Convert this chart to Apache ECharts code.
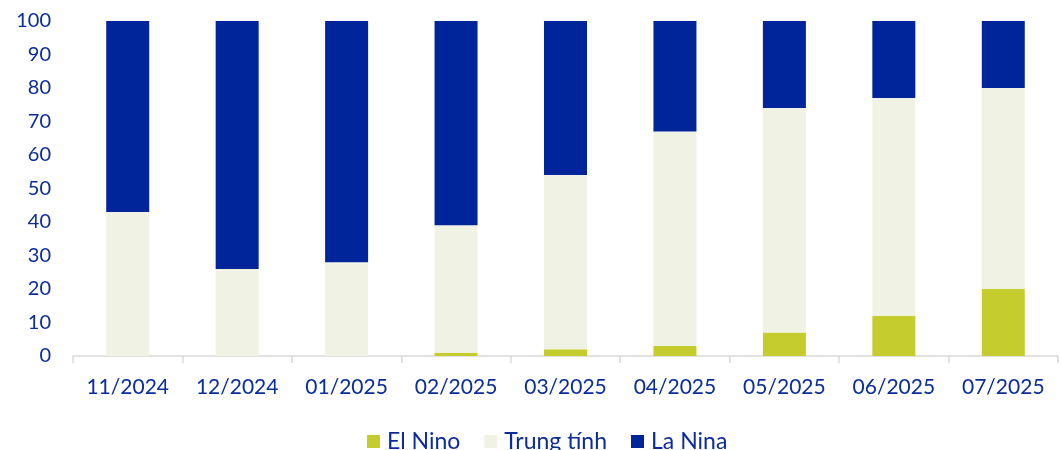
<!DOCTYPE html>
<html><head><meta charset="utf-8">
<script src="https://cdn.jsdelivr.net/npm/echarts@6/dist/echarts.min.js"></script>
<style>html,body{margin:0;padding:0;background:#fff}#c{width:1061px;height:450px}</style>
</head><body><div id="c"></div>
<script>
const categories = ['11/2024','12/2024','01/2025','02/2025','03/2025','04/2025','05/2025','06/2025','07/2025'];
const elNino = [0,0,0,1,2,3,7,12,20];
const trungTinh = [43,26,28,38,52,64,67,65,60];
const laNina = [57,74,72,61,46,33,26,23,20];
const seriesNames = ['El Nino','Trung tính','La Nina'];
const colors = ['#C5CD2E','#F0F3E3','#00259A'];
const textColor = '#0A2D9A';
const font = 'Lato';

const chart = echarts.init(document.getElementById('c'));
const data = [elNino, trungTinh, laNina];
chart.setOption({
  animation:false,
  grid:{left:73,right:3,top:21,bottom:94,containLabel:false},
  legend:{top:430,left:367,padding:0,itemWidth:13,itemHeight:13,itemGap:24,icon:'rect',
    textStyle:{color:textColor,fontSize:23,fontFamily:font,lineHeight:21,padding:[0,0,0,2]},
    data:seriesNames},
  xAxis:{type:'category',data:categories,
    axisLine:{lineStyle:{color:'#D9D9D9',width:1.5}},
    axisTick:{show:true,length:7,lineStyle:{color:'#D9D9D9',width:1.5}},
    axisLabel:{color:textColor,fontSize:21,fontFamily:font,margin:21}},
  yAxis:{type:'value',min:0,max:100,interval:10,
    splitLine:{show:false},axisLine:{show:false},axisTick:{show:false},
    axisLabel:{color:textColor,fontSize:20,fontFamily:font,margin:22}},
  series: seriesNames.map((n,i)=>({name:n,type:'bar',stack:'a',barWidth:43,
    itemStyle:{color:colors[i]},data:data[i]}))
});
</script></body></html>
